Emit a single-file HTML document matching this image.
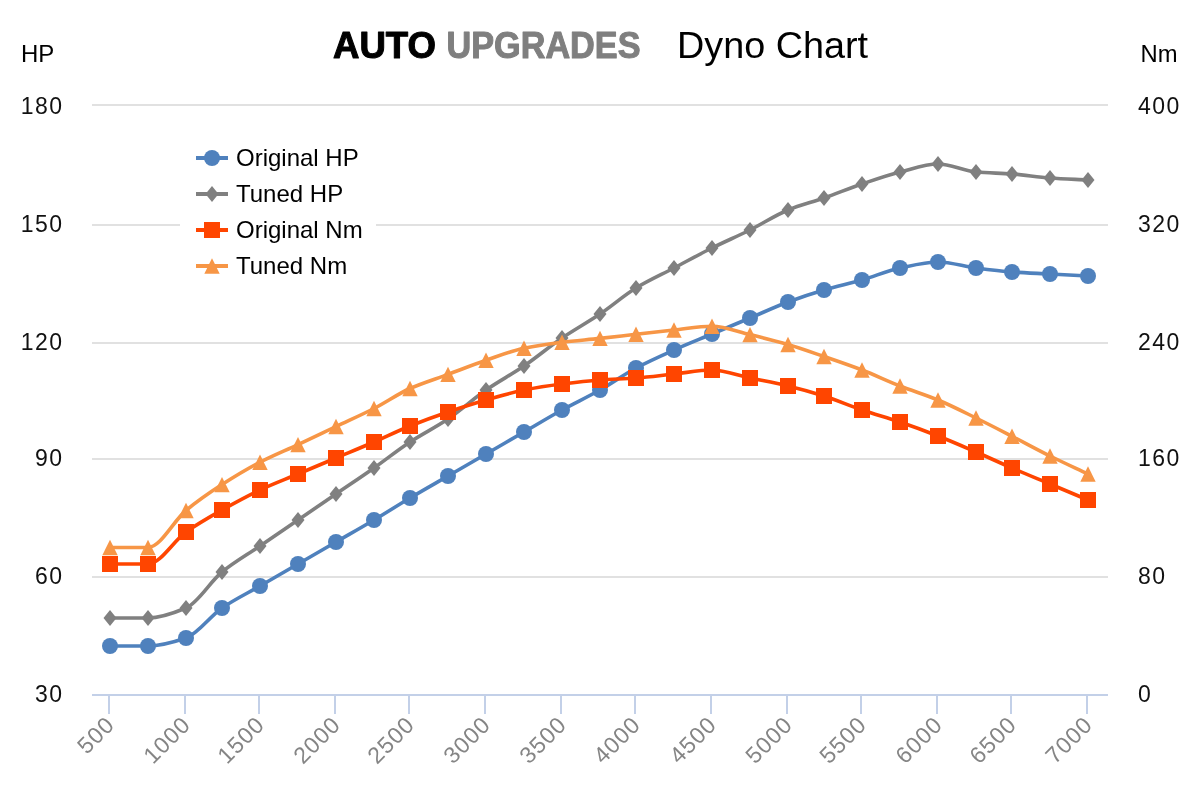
<!DOCTYPE html>
<html>
<head>
<meta charset="utf-8">
<title>Dyno Chart</title>
<style>
html,body{margin:0;padding:0;background:#fff;}
body{width:1200px;height:800px;overflow:hidden;}
svg{display:block;filter:blur(0.55px);}
text{font-family:"Liberation Sans",sans-serif;fill:#000;}
.leg{font-size:24px;}
.num{font-size:23px;letter-spacing:1.5px;fill:#111;}
.xl{font-size:23px;fill:#858585;letter-spacing:1px;}
.t1{font-size:36px;font-weight:bold;stroke-width:1px;stroke-linejoin:round;}
.t2{font-size:37px;}
</style>
</head>
<body>
<svg width="1200" height="800" viewBox="0 0 1200 800">
<rect width="1200" height="800" fill="#fff"/>
<rect x="92" y="104" width="1016" height="2" fill="#e1e1e1"/>
<rect x="92" y="224" width="1016" height="2" fill="#e1e1e1"/>
<rect x="92" y="342" width="1016" height="2" fill="#e1e1e1"/>
<rect x="92" y="458" width="1016" height="2" fill="#e1e1e1"/>
<rect x="92" y="576" width="1016" height="2" fill="#e1e1e1"/>
<rect x="180" y="136" width="196" height="150" fill="#fff"/>
<rect x="92" y="694" width="1016" height="2" fill="#c3d0e8"/>
<rect x="108.00" y="695" width="2" height="19" fill="#c3d0e8"/>
<rect x="184.00" y="695" width="2" height="19" fill="#c3d0e8"/>
<rect x="258.00" y="695" width="2" height="19" fill="#c3d0e8"/>
<rect x="334.00" y="695" width="2" height="19" fill="#c3d0e8"/>
<rect x="408.00" y="695" width="2" height="19" fill="#c3d0e8"/>
<rect x="484.00" y="695" width="2" height="19" fill="#c3d0e8"/>
<rect x="560.00" y="695" width="2" height="19" fill="#c3d0e8"/>
<rect x="634.00" y="695" width="2" height="19" fill="#c3d0e8"/>
<rect x="710.00" y="695" width="2" height="19" fill="#c3d0e8"/>
<rect x="786.00" y="695" width="2" height="19" fill="#c3d0e8"/>
<rect x="860.00" y="695" width="2" height="19" fill="#c3d0e8"/>
<rect x="936.00" y="695" width="2" height="19" fill="#c3d0e8"/>
<rect x="1010.00" y="695" width="2" height="19" fill="#c3d0e8"/>
<rect x="1086.00" y="695" width="2" height="19" fill="#c3d0e8"/>
<path d="M110.00,646.00 C122.67,646.00 135.33,646.00 148.00,646.00 C160.67,646.00 173.33,642.26 186.00,638.00 C198.00,633.97 210.00,616.20 222.00,608.00 C234.67,599.35 247.33,593.33 260.00,586.00 C272.67,578.67 285.33,571.33 298.00,564.00 C310.67,556.67 323.33,549.33 336.00,542.00 C348.67,534.67 361.33,527.53 374.00,520.00 C386.00,512.86 398.00,505.14 410.00,498.00 C422.67,490.47 435.33,483.33 448.00,476.00 C460.67,468.67 473.33,461.33 486.00,454.00 C498.67,446.67 511.33,439.33 524.00,432.00 C536.67,424.67 549.33,416.98 562.00,410.00 C574.67,403.02 587.33,397.16 600.00,390.00 C612.00,383.21 624.00,374.40 636.00,368.00 C648.67,361.24 661.33,355.65 674.00,350.00 C686.67,344.35 699.33,339.33 712.00,334.00 C724.67,328.67 737.33,323.33 750.00,318.00 C762.67,312.67 775.33,306.71 788.00,302.00 C800.00,297.53 812.00,293.53 824.00,290.00 C836.67,286.27 849.33,283.64 862.00,280.00 C874.67,276.36 887.33,270.67 900.00,268.00 C912.67,265.33 925.33,262.00 938.00,262.00 C950.67,262.00 963.33,266.35 976.00,268.00 C988.00,269.57 1000.00,271.14 1012.00,272.00 C1024.67,272.90 1037.33,273.33 1050.00,274.00 C1062.67,274.67 1075.33,275.33 1088.00,276.00" fill="none" stroke="#4f81bd" stroke-width="3.6" stroke-linejoin="round"/>
<circle cx="110.00" cy="646.00" r="8.0" fill="#4f81bd"/>
<circle cx="148.00" cy="646.00" r="8.0" fill="#4f81bd"/>
<circle cx="186.00" cy="638.00" r="8.0" fill="#4f81bd"/>
<circle cx="222.00" cy="608.00" r="8.0" fill="#4f81bd"/>
<circle cx="260.00" cy="586.00" r="8.0" fill="#4f81bd"/>
<circle cx="298.00" cy="564.00" r="8.0" fill="#4f81bd"/>
<circle cx="336.00" cy="542.00" r="8.0" fill="#4f81bd"/>
<circle cx="374.00" cy="520.00" r="8.0" fill="#4f81bd"/>
<circle cx="410.00" cy="498.00" r="8.0" fill="#4f81bd"/>
<circle cx="448.00" cy="476.00" r="8.0" fill="#4f81bd"/>
<circle cx="486.00" cy="454.00" r="8.0" fill="#4f81bd"/>
<circle cx="524.00" cy="432.00" r="8.0" fill="#4f81bd"/>
<circle cx="562.00" cy="410.00" r="8.0" fill="#4f81bd"/>
<circle cx="600.00" cy="390.00" r="8.0" fill="#4f81bd"/>
<circle cx="636.00" cy="368.00" r="8.0" fill="#4f81bd"/>
<circle cx="674.00" cy="350.00" r="8.0" fill="#4f81bd"/>
<circle cx="712.00" cy="334.00" r="8.0" fill="#4f81bd"/>
<circle cx="750.00" cy="318.00" r="8.0" fill="#4f81bd"/>
<circle cx="788.00" cy="302.00" r="8.0" fill="#4f81bd"/>
<circle cx="824.00" cy="290.00" r="8.0" fill="#4f81bd"/>
<circle cx="862.00" cy="280.00" r="8.0" fill="#4f81bd"/>
<circle cx="900.00" cy="268.00" r="8.0" fill="#4f81bd"/>
<circle cx="938.00" cy="262.00" r="8.0" fill="#4f81bd"/>
<circle cx="976.00" cy="268.00" r="8.0" fill="#4f81bd"/>
<circle cx="1012.00" cy="272.00" r="8.0" fill="#4f81bd"/>
<circle cx="1050.00" cy="274.00" r="8.0" fill="#4f81bd"/>
<circle cx="1088.00" cy="276.00" r="8.0" fill="#4f81bd"/>
<path d="M110.00,618.00 C122.67,618.00 135.33,618.00 148.00,618.00 C160.67,618.00 173.33,613.28 186.00,608.00 C198.00,603.00 210.00,581.75 222.00,572.00 C234.67,561.71 247.33,554.67 260.00,546.00 C272.67,537.33 285.33,528.67 298.00,520.00 C310.67,511.33 323.33,502.67 336.00,494.00 C348.67,485.33 361.33,476.90 374.00,468.00 C386.00,459.57 398.00,449.90 410.00,442.00 C422.67,433.66 435.33,427.55 448.00,419.00 C460.67,410.45 473.33,398.75 486.00,390.00 C498.67,381.25 511.33,374.62 524.00,366.00 C536.67,357.38 549.33,346.62 562.00,338.00 C574.67,329.38 587.33,322.54 600.00,314.00 C612.00,305.91 624.00,295.31 636.00,288.00 C648.67,280.29 661.33,274.67 674.00,268.00 C686.67,261.33 699.33,254.32 712.00,248.00 C724.67,241.68 737.33,236.32 750.00,230.00 C762.67,223.68 775.33,215.17 788.00,210.00 C800.00,205.10 812.00,202.20 824.00,198.00 C836.67,193.57 849.33,188.31 862.00,184.00 C874.67,179.69 887.33,175.20 900.00,172.00 C912.67,168.80 925.33,164.00 938.00,164.00 C950.67,164.00 963.33,170.89 976.00,172.00 C988.00,173.05 1000.00,173.13 1012.00,174.00 C1024.67,174.92 1037.33,177.11 1050.00,178.00 C1062.67,178.89 1075.33,179.33 1088.00,180.00" fill="none" stroke="#808080" stroke-width="3.6" stroke-linejoin="round"/>
<path d="M110.00,610.00 L116.50,618.00 L110.00,626.00 L103.50,618.00 Z" fill="#808080"/>
<path d="M148.00,610.00 L154.50,618.00 L148.00,626.00 L141.50,618.00 Z" fill="#808080"/>
<path d="M186.00,600.00 L192.50,608.00 L186.00,616.00 L179.50,608.00 Z" fill="#808080"/>
<path d="M222.00,564.00 L228.50,572.00 L222.00,580.00 L215.50,572.00 Z" fill="#808080"/>
<path d="M260.00,538.00 L266.50,546.00 L260.00,554.00 L253.50,546.00 Z" fill="#808080"/>
<path d="M298.00,512.00 L304.50,520.00 L298.00,528.00 L291.50,520.00 Z" fill="#808080"/>
<path d="M336.00,486.00 L342.50,494.00 L336.00,502.00 L329.50,494.00 Z" fill="#808080"/>
<path d="M374.00,460.00 L380.50,468.00 L374.00,476.00 L367.50,468.00 Z" fill="#808080"/>
<path d="M410.00,434.00 L416.50,442.00 L410.00,450.00 L403.50,442.00 Z" fill="#808080"/>
<path d="M448.00,411.00 L454.50,419.00 L448.00,427.00 L441.50,419.00 Z" fill="#808080"/>
<path d="M486.00,382.00 L492.50,390.00 L486.00,398.00 L479.50,390.00 Z" fill="#808080"/>
<path d="M524.00,358.00 L530.50,366.00 L524.00,374.00 L517.50,366.00 Z" fill="#808080"/>
<path d="M562.00,330.00 L568.50,338.00 L562.00,346.00 L555.50,338.00 Z" fill="#808080"/>
<path d="M600.00,306.00 L606.50,314.00 L600.00,322.00 L593.50,314.00 Z" fill="#808080"/>
<path d="M636.00,280.00 L642.50,288.00 L636.00,296.00 L629.50,288.00 Z" fill="#808080"/>
<path d="M674.00,260.00 L680.50,268.00 L674.00,276.00 L667.50,268.00 Z" fill="#808080"/>
<path d="M712.00,240.00 L718.50,248.00 L712.00,256.00 L705.50,248.00 Z" fill="#808080"/>
<path d="M750.00,222.00 L756.50,230.00 L750.00,238.00 L743.50,230.00 Z" fill="#808080"/>
<path d="M788.00,202.00 L794.50,210.00 L788.00,218.00 L781.50,210.00 Z" fill="#808080"/>
<path d="M824.00,190.00 L830.50,198.00 L824.00,206.00 L817.50,198.00 Z" fill="#808080"/>
<path d="M862.00,176.00 L868.50,184.00 L862.00,192.00 L855.50,184.00 Z" fill="#808080"/>
<path d="M900.00,164.00 L906.50,172.00 L900.00,180.00 L893.50,172.00 Z" fill="#808080"/>
<path d="M938.00,156.00 L944.50,164.00 L938.00,172.00 L931.50,164.00 Z" fill="#808080"/>
<path d="M976.00,164.00 L982.50,172.00 L976.00,180.00 L969.50,172.00 Z" fill="#808080"/>
<path d="M1012.00,166.00 L1018.50,174.00 L1012.00,182.00 L1005.50,174.00 Z" fill="#808080"/>
<path d="M1050.00,170.00 L1056.50,178.00 L1050.00,186.00 L1043.50,178.00 Z" fill="#808080"/>
<path d="M1088.00,172.00 L1094.50,180.00 L1088.00,188.00 L1081.50,180.00 Z" fill="#808080"/>
<path d="M110.00,564.00 C122.67,564.00 135.33,564.00 148.00,564.00 C160.67,564.00 173.33,540.97 186.00,532.00 C198.00,523.50 210.00,516.79 222.00,510.00 C234.67,502.84 247.33,495.93 260.00,490.00 C272.67,484.07 285.33,479.33 298.00,474.00 C310.67,468.67 323.33,463.33 336.00,458.00 C348.67,452.67 361.33,447.48 374.00,442.00 C386.00,436.81 398.00,430.83 410.00,426.00 C422.67,420.90 435.33,416.31 448.00,412.00 C460.67,407.69 473.33,403.64 486.00,400.00 C498.67,396.36 511.33,392.50 524.00,390.00 C536.67,387.50 549.33,385.60 562.00,384.00 C574.67,382.40 587.33,380.92 600.00,380.00 C612.00,379.13 624.00,378.87 636.00,378.00 C648.67,377.08 661.33,375.33 674.00,374.00 C686.67,372.67 699.33,370.00 712.00,370.00 C724.67,370.00 737.33,375.33 750.00,378.00 C762.67,380.67 775.33,382.97 788.00,386.00 C800.00,388.87 812.00,392.20 824.00,396.00 C836.67,400.01 849.33,405.69 862.00,410.00 C874.67,414.31 887.33,417.69 900.00,422.00 C912.67,426.31 925.33,431.02 938.00,436.00 C950.67,440.98 963.33,446.52 976.00,452.00 C988.00,457.19 1000.00,462.81 1012.00,468.00 C1024.67,473.48 1037.33,478.67 1050.00,484.00 C1062.67,489.33 1075.33,494.67 1088.00,500.00" fill="none" stroke="#ff4500" stroke-width="3.6" stroke-linejoin="round"/>
<rect x="102.00" y="556.00" width="16" height="16" fill="#ff4500"/>
<rect x="140.00" y="556.00" width="16" height="16" fill="#ff4500"/>
<rect x="178.00" y="524.00" width="16" height="16" fill="#ff4500"/>
<rect x="214.00" y="502.00" width="16" height="16" fill="#ff4500"/>
<rect x="252.00" y="482.00" width="16" height="16" fill="#ff4500"/>
<rect x="290.00" y="466.00" width="16" height="16" fill="#ff4500"/>
<rect x="328.00" y="450.00" width="16" height="16" fill="#ff4500"/>
<rect x="366.00" y="434.00" width="16" height="16" fill="#ff4500"/>
<rect x="402.00" y="418.00" width="16" height="16" fill="#ff4500"/>
<rect x="440.00" y="404.00" width="16" height="16" fill="#ff4500"/>
<rect x="478.00" y="392.00" width="16" height="16" fill="#ff4500"/>
<rect x="516.00" y="382.00" width="16" height="16" fill="#ff4500"/>
<rect x="554.00" y="376.00" width="16" height="16" fill="#ff4500"/>
<rect x="592.00" y="372.00" width="16" height="16" fill="#ff4500"/>
<rect x="628.00" y="370.00" width="16" height="16" fill="#ff4500"/>
<rect x="666.00" y="366.00" width="16" height="16" fill="#ff4500"/>
<rect x="704.00" y="362.00" width="16" height="16" fill="#ff4500"/>
<rect x="742.00" y="370.00" width="16" height="16" fill="#ff4500"/>
<rect x="780.00" y="378.00" width="16" height="16" fill="#ff4500"/>
<rect x="816.00" y="388.00" width="16" height="16" fill="#ff4500"/>
<rect x="854.00" y="402.00" width="16" height="16" fill="#ff4500"/>
<rect x="892.00" y="414.00" width="16" height="16" fill="#ff4500"/>
<rect x="930.00" y="428.00" width="16" height="16" fill="#ff4500"/>
<rect x="968.00" y="444.00" width="16" height="16" fill="#ff4500"/>
<rect x="1004.00" y="460.00" width="16" height="16" fill="#ff4500"/>
<rect x="1042.00" y="476.00" width="16" height="16" fill="#ff4500"/>
<rect x="1080.00" y="492.00" width="16" height="16" fill="#ff4500"/>
<path d="M110.00,547.50 C122.67,547.50 135.33,547.50 148.00,547.50 C160.67,547.50 173.33,520.98 186.00,510.50 C198.00,500.57 210.00,492.37 222.00,484.60 C234.67,476.40 247.33,468.82 260.00,462.25 C272.67,455.68 285.33,450.56 298.00,444.60 C310.67,438.64 323.33,432.52 336.00,426.50 C348.67,420.48 361.33,414.98 374.00,408.50 C386.00,402.36 398.00,393.84 410.00,388.50 C422.67,382.86 435.33,379.11 448.00,374.40 C460.67,369.69 473.33,364.58 486.00,360.25 C498.67,355.92 511.33,350.92 524.00,348.25 C536.67,345.58 549.33,343.81 562.00,342.25 C574.67,340.69 587.33,339.77 600.00,338.40 C612.00,337.11 624.00,335.61 636.00,334.25 C648.67,332.81 661.33,331.33 674.00,330.00 C686.67,328.67 699.33,326.25 712.00,326.25 C724.67,326.25 737.33,331.58 750.00,334.60 C762.67,337.62 775.33,340.80 788.00,344.50 C800.00,348.01 812.00,352.37 824.00,356.50 C836.67,360.86 849.33,365.12 862.00,370.00 C874.67,374.88 887.33,381.02 900.00,386.00 C912.67,390.98 925.33,394.75 938.00,400.00 C950.67,405.25 963.33,411.80 976.00,418.00 C988.00,423.88 1000.00,430.09 1012.00,436.25 C1024.67,442.75 1037.33,449.72 1050.00,456.00 C1062.67,462.28 1075.33,468.00 1088.00,474.00" fill="none" stroke="#f79646" stroke-width="3.6" stroke-linejoin="round"/>
<path d="M110.00,539.80 L117.70,555.20 L102.30,555.20 Z" fill="#f79646"/>
<path d="M148.00,539.80 L155.70,555.20 L140.30,555.20 Z" fill="#f79646"/>
<path d="M186.00,502.80 L193.70,518.20 L178.30,518.20 Z" fill="#f79646"/>
<path d="M222.00,476.90 L229.70,492.30 L214.30,492.30 Z" fill="#f79646"/>
<path d="M260.00,454.55 L267.70,469.95 L252.30,469.95 Z" fill="#f79646"/>
<path d="M298.00,436.90 L305.70,452.30 L290.30,452.30 Z" fill="#f79646"/>
<path d="M336.00,418.80 L343.70,434.20 L328.30,434.20 Z" fill="#f79646"/>
<path d="M374.00,400.80 L381.70,416.20 L366.30,416.20 Z" fill="#f79646"/>
<path d="M410.00,380.80 L417.70,396.20 L402.30,396.20 Z" fill="#f79646"/>
<path d="M448.00,366.70 L455.70,382.10 L440.30,382.10 Z" fill="#f79646"/>
<path d="M486.00,352.55 L493.70,367.95 L478.30,367.95 Z" fill="#f79646"/>
<path d="M524.00,340.55 L531.70,355.95 L516.30,355.95 Z" fill="#f79646"/>
<path d="M562.00,334.55 L569.70,349.95 L554.30,349.95 Z" fill="#f79646"/>
<path d="M600.00,330.70 L607.70,346.10 L592.30,346.10 Z" fill="#f79646"/>
<path d="M636.00,326.55 L643.70,341.95 L628.30,341.95 Z" fill="#f79646"/>
<path d="M674.00,322.30 L681.70,337.70 L666.30,337.70 Z" fill="#f79646"/>
<path d="M712.00,318.55 L719.70,333.95 L704.30,333.95 Z" fill="#f79646"/>
<path d="M750.00,326.90 L757.70,342.30 L742.30,342.30 Z" fill="#f79646"/>
<path d="M788.00,336.80 L795.70,352.20 L780.30,352.20 Z" fill="#f79646"/>
<path d="M824.00,348.80 L831.70,364.20 L816.30,364.20 Z" fill="#f79646"/>
<path d="M862.00,362.30 L869.70,377.70 L854.30,377.70 Z" fill="#f79646"/>
<path d="M900.00,378.30 L907.70,393.70 L892.30,393.70 Z" fill="#f79646"/>
<path d="M938.00,392.30 L945.70,407.70 L930.30,407.70 Z" fill="#f79646"/>
<path d="M976.00,410.30 L983.70,425.70 L968.30,425.70 Z" fill="#f79646"/>
<path d="M1012.00,428.55 L1019.70,443.95 L1004.30,443.95 Z" fill="#f79646"/>
<path d="M1050.00,448.30 L1057.70,463.70 L1042.30,463.70 Z" fill="#f79646"/>
<path d="M1088.00,466.30 L1095.70,481.70 L1080.30,481.70 Z" fill="#f79646"/>
<rect x="196" y="156" width="32" height="4" fill="#4f81bd"/>
<circle cx="212.00" cy="158.00" r="8.0" fill="#4f81bd"/>
<text x="236" y="166" class="leg">Original HP</text>
<rect x="196" y="192" width="32" height="4" fill="#808080"/>
<path d="M212.00,186.00 L218.50,194.00 L212.00,202.00 L205.50,194.00 Z" fill="#808080"/>
<text x="236" y="202" class="leg">Tuned HP</text>
<rect x="196" y="228" width="32" height="4" fill="#ff4500"/>
<rect x="204.00" y="222.00" width="16" height="16" fill="#ff4500"/>
<text x="236" y="238" class="leg">Original Nm</text>
<rect x="196" y="264" width="32" height="4" fill="#f79646"/>
<path d="M212.00,258.30 L219.70,273.70 L204.30,273.70 Z" fill="#f79646"/>
<text x="236" y="274" class="leg">Tuned Nm</text>
<text x="21" y="62" class="leg">HP</text>
<text x="1140.5" y="62" class="leg" textLength="37" lengthAdjust="spacingAndGlyphs">Nm</text>
<text x="63.5" y="114" class="num" text-anchor="end">180</text>
<text x="1138" y="114" class="num">400</text>
<text x="63.5" y="232" class="num" text-anchor="end">150</text>
<text x="1138" y="232" class="num">320</text>
<text x="63.5" y="350" class="num" text-anchor="end">120</text>
<text x="1138" y="350" class="num">240</text>
<text x="63.5" y="466" class="num" text-anchor="end">90</text>
<text x="1138" y="466" class="num">160</text>
<text x="63.5" y="584" class="num" text-anchor="end">60</text>
<text x="1138" y="584" class="num">80</text>
<text x="63.5" y="702" class="num" text-anchor="end">30</text>
<text x="1138" y="702" class="num">0</text>
<text transform="translate(116.00,726) rotate(-45)" text-anchor="end" class="xl">500</text>
<text transform="translate(192.00,726) rotate(-45)" text-anchor="end" class="xl">1000</text>
<text transform="translate(266.00,726) rotate(-45)" text-anchor="end" class="xl">1500</text>
<text transform="translate(342.00,726) rotate(-45)" text-anchor="end" class="xl">2000</text>
<text transform="translate(416.00,726) rotate(-45)" text-anchor="end" class="xl">2500</text>
<text transform="translate(492.00,726) rotate(-45)" text-anchor="end" class="xl">3000</text>
<text transform="translate(568.00,726) rotate(-45)" text-anchor="end" class="xl">3500</text>
<text transform="translate(642.00,726) rotate(-45)" text-anchor="end" class="xl">4000</text>
<text transform="translate(718.00,726) rotate(-45)" text-anchor="end" class="xl">4500</text>
<text transform="translate(794.00,726) rotate(-45)" text-anchor="end" class="xl">5000</text>
<text transform="translate(868.00,726) rotate(-45)" text-anchor="end" class="xl">5500</text>
<text transform="translate(944.00,726) rotate(-45)" text-anchor="end" class="xl">6000</text>
<text transform="translate(1018.00,726) rotate(-45)" text-anchor="end" class="xl">6500</text>
<text transform="translate(1094.00,726) rotate(-45)" text-anchor="end" class="xl">7000</text>
<text x="333" y="57.5" class="t1" textLength="103" lengthAdjust="spacingAndGlyphs" style="fill:#000;stroke:#000">AUTO</text>
<text x="446.5" y="57.5" class="t1" textLength="194" lengthAdjust="spacingAndGlyphs" style="fill:#7f7f7f;stroke:#7f7f7f">UPGRADES</text>
<text x="677" y="57.5" class="t2" textLength="191" lengthAdjust="spacingAndGlyphs">Dyno Chart</text>
</svg>
</body>
</html>
